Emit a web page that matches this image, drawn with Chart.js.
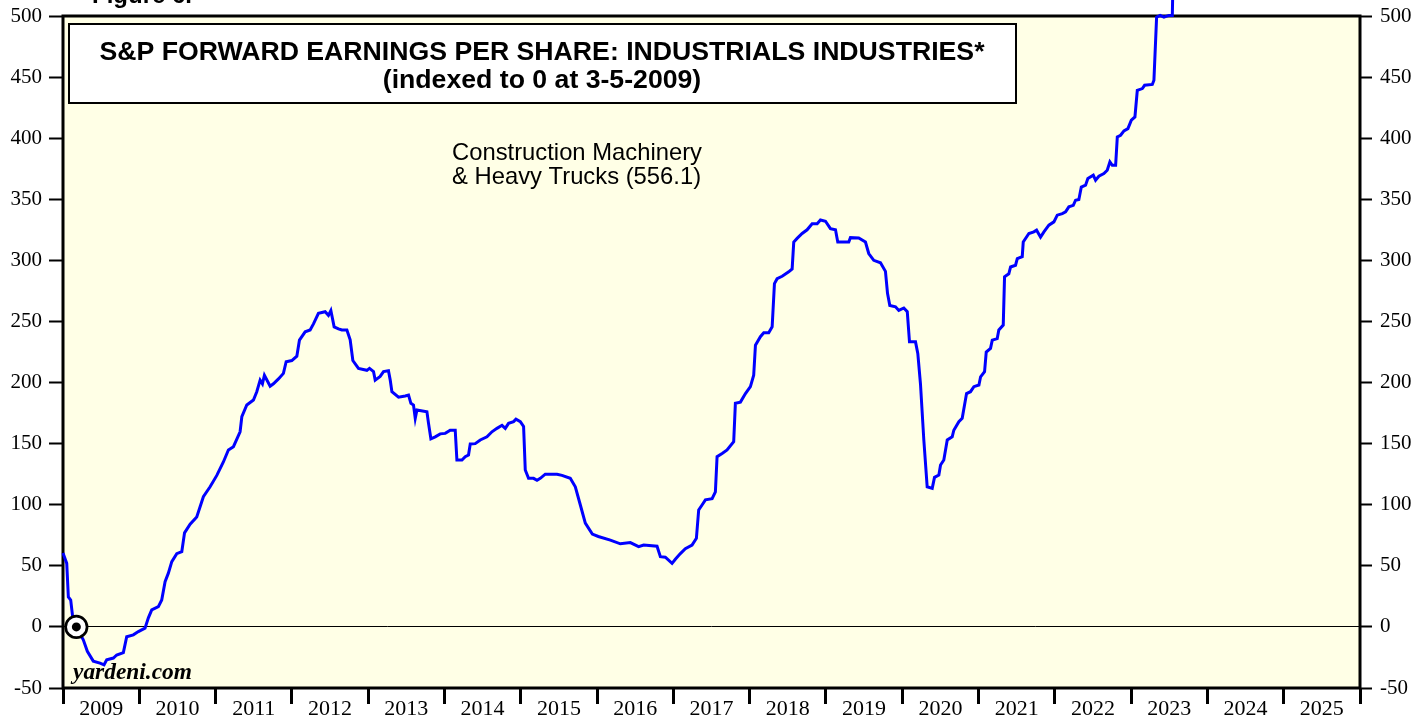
<!DOCTYPE html>
<html><head><meta charset="utf-8">
<script src="https://cdn.jsdelivr.net/npm/chart.js@4.4.0/dist/chart.umd.min.js"></script>
<style>html,body{margin:0;padding:0;background:#fff;}#wrap{width:1427px;height:719px;position:relative;}</style>
</head><body><div id="wrap"><canvas id="c"></canvas></div>
<script>
// ---- DATA ----
const yearLabels = ['2009','2010','2011','2012','2013','2014','2015','2016','2017','2018','2019','2020','2021','2022','2023','2024','2025'];
const yTicks = [-50,0,50,100,150,200,250,300,350,400,450,500];
const xMin = 2009, xMax = 2026;
const dates = [
 2009.000,2009.049,2009.070,2009.101,2009.127,2009.175,2009.266,2009.319,2009.397,2009.485,2009.538,2009.573,2009.660,2009.704,2009.791,2009.835,2009.922,2009.988,
 2010.075,2010.119,2010.163,2010.250,2010.294,2010.338,2010.381,2010.426,2010.491,2010.557,2010.593,2010.666,2010.753,2010.840,2010.928,
 2011.016,2011.102,2011.168,2011.234,2011.321,2011.344,2011.409,2011.496,2011.540,2011.584,2011.614,2011.640,2011.715,2011.758,2011.824,2011.889,2011.925,2011.999,
 2012.065,2012.099,2012.174,2012.239,2012.283,2012.348,2012.436,2012.479,2012.511,2012.554,2012.611,2012.655,2012.721,2012.764,2012.799,2012.873,2012.983,
 2013.017,2013.070,2013.092,2013.157,2013.201,2013.266,2013.289,2013.311,2013.398,2013.485,2013.529,2013.560,2013.594,2013.617,2013.639,2013.770,2013.791,2013.822,2013.879,2013.944,
 2014.010,2014.075,2014.141,2014.163,2014.229,2014.272,2014.315,2014.338,2014.403,2014.469,2014.557,2014.622,2014.688,2014.754,2014.797,2014.840,2014.906,2014.937,2014.994,
 2015.037,2015.059,2015.102,2015.168,2015.213,2015.256,2015.321,2015.475,2015.540,2015.649,2015.715,2015.780,2015.846,2015.938,
 2016.017,2016.174,2016.305,2016.436,2016.545,2016.611,2016.786,2016.830,2016.895,2016.983,
 2017.026,2017.092,2017.157,2017.245,2017.302,2017.332,2017.376,2017.420,2017.508,2017.551,2017.573,2017.639,2017.704,2017.791,2017.813,2017.879,2017.945,
 2018.010,2018.053,2018.076,2018.141,2018.185,2018.250,2018.295,2018.325,2018.360,2018.426,2018.512,2018.557,2018.578,2018.622,2018.688,2018.753,2018.819,2018.885,2018.928,2018.994,
 2019.059,2019.125,2019.155,2019.234,2019.299,2019.321,2019.430,2019.518,2019.561,2019.627,2019.715,2019.780,2019.807,2019.837,2019.912,2019.955,
 2020.021,2020.066,2020.095,2020.174,2020.204,2020.239,2020.283,2020.327,2020.393,2020.423,2020.480,2020.502,2020.545,2020.590,2020.655,2020.676,2020.742,2020.786,2020.843,2020.895,2020.939,
 2021.005,2021.027,2021.079,2021.101,2021.157,2021.180,2021.245,2021.266,2021.324,2021.341,2021.397,2021.420,2021.485,2021.508,2021.573,2021.586,2021.660,2021.725,2021.761,2021.813,2021.857,2021.922,2021.988,
 2022.032,2022.098,2022.141,2022.184,2022.242,2022.272,2022.315,2022.347,2022.403,2022.433,2022.504,2022.534,2022.577,2022.643,2022.687,2022.722,2022.753,2022.797,2022.819,2022.862,2022.906,2022.958,
 2023.003,2023.050,2023.081,2023.147,2023.177,2023.278,2023.299,2023.334,2023.380,2023.430,2023.495,2023.540,2023.557
];
const values = [
 60.5,52,24.5,22,8,0,-10.6,-20,-28,-29.6,-31,-27,-25.5,-23,-21,-8,-6.5,-3.8,
 -1,7.4,14,16.6,22,37,44,53.4,60,61.6,77,84,90,106.6,114.7,
 124,135,144.8,147.5,159.7,172,181.6,185.7,192.5,202,199,206,197,199,203,207.5,217,218,
 221.6,234.7,241.5,243,248,256.6,258,255,259,245.6,244,243,243,235,218,211.6,210,
 211.6,209,202,205,209,209.7,202,192.5,188,189,189.7,183,181.6,170.7,177.5,176,166.6,154,155.6,158,
 158.4,161,161,136.6,136.6,139.3,140.7,149.7,150,153,155.6,159.7,162.5,165,162.5,166.6,168,170,168,
 164,128.4,121.6,121.6,120,121.6,125,125,124,121.6,114.7,100,85,76,
 74,71,68,69,65.7,67,66,57.5,57,52,
 55.4,60,64,67,72.5,95.7,99.8,104,105,110.6,139.3,142,144.8,151.6,183,184,191,
 196.6,206,230.6,237.5,240.7,240.7,245.6,281,285,287,290.6,293,315,318,322,325,330,330,333,332,
 326,325,315,315,315,318.6,318.4,315,305.6,300,298,291,273,263,262,259,
 261,258,233.3,233.3,223.8,199,153,114.7,113.4,122.4,124.3,132.5,136.6,153,155.6,161,168,170.7,191,192.5,196.6,
 198,204.7,208.8,225,228,234.7,236,243,247,286.5,289,294.6,296,301.4,303,315,322,323.3,324.7,319,323.3,328.8,331.5,
 337,338.3,339.7,343.8,345,349.2,349.8,360,361.5,367,369.7,365.6,368.9,371,373.8,380.6,377.8,377.8,401,402.4,406,407.8,
 414.7,417.4,439.2,440.6,443.3,444,447.4,499,500.5,499,500.5,500.5,556.1
];
const markerDate = 2009.175, markerValue = 0;
const titleLines = ['S&P FORWARD EARNINGS PER SHARE: INDUSTRIALS INDUSTRIES*', '(indexed to 0 at 3-5-2009)'];
const seriesLabel = ['Construction Machinery', '& Heavy Trucks (556.1)'];
const figureLabel = 'Figure 6.';
const sourceLabel = 'yardeni.com';

// ---- DRAWING ----
const SERIF = "'Liberation Serif','Times New Roman',serif";
const SANS = "'Liberation Sans',Arial,sans-serif";
const points = dates.map((d, i) => ({x: d, y: values[i]}));

function scaleFor(ctx, text, font, width){ ctx.save(); ctx.font = font; const w = ctx.measureText(text).width; ctx.restore(); return width / w; }
function drawScaled(ctx, text, x, y, font, s, align){
  ctx.save(); ctx.font = font; ctx.fillStyle = '#000'; ctx.textAlign = align; ctx.textBaseline = 'alphabetic';
  ctx.translate(x, y); ctx.scale(s, 1); ctx.fillText(text, 0, 0); ctx.restore();
}

const deco = {
  id: 'deco',
  beforeDraw(chart){
    const {ctx, chartArea: a} = chart;
    ctx.save();
    ctx.fillStyle = '#fff'; ctx.fillRect(0, 0, chart.width, chart.height);
    ctx.fillStyle = '#FFFFE6'; ctx.fillRect(a.left, a.top, a.right - a.left, a.bottom - a.top);
    ctx.restore();
    drawScaled(ctx, figureLabel, 92, 3, 'bold 24px ' + SANS, 1, 'left');
  },
  beforeDatasetsDraw(chart){
    const {ctx, chartArea: a} = chart;
    ctx.save(); ctx.strokeStyle = '#000'; ctx.lineWidth = 3;
    ctx.strokeRect(a.left, a.top, a.right - a.left, a.bottom - a.top);
    ctx.restore();
  },
  afterDatasetsDraw(chart){
    const {ctx} = chart;
    // title box
    ctx.save(); ctx.fillStyle = '#fff'; ctx.strokeStyle = '#000'; ctx.lineWidth = 2;
    ctx.fillRect(69, 24, 947, 79); ctx.strokeRect(69, 24, 947, 79); ctx.restore();
    const tf = 'bold 25px ' + SANS;
    const ts = scaleFor(ctx, titleLines[0], tf, 885);
    drawScaled(ctx, titleLines[0], 542, 59.5, tf, ts, 'center');
    drawScaled(ctx, titleLines[1], 542, 87.5, tf, ts, 'center');
    // series label
    const af = '24px ' + SANS;
    const as = scaleFor(ctx, seriesLabel[0], af, 250);
    drawScaled(ctx, seriesLabel[0], 452, 159.5, af, as, 'left');
    drawScaled(ctx, seriesLabel[1], 452, 184, af, as, 'left');
    // source
    const sf = 'italic bold 23px ' + SERIF;
    drawScaled(ctx, sourceLabel, 73, 679, sf, scaleFor(ctx, sourceLabel, sf, 119), 'left');
    // marker
    const mx = chart.scales.x.getPixelForValue(markerDate), my = chart.scales.y.getPixelForValue(markerValue);
    ctx.save();
    ctx.beginPath(); ctx.arc(mx, my, 10.7, 0, Math.PI * 2); ctx.fillStyle = '#fff'; ctx.fill();
    ctx.lineWidth = 2.7; ctx.strokeStyle = '#000'; ctx.stroke();
    ctx.beginPath(); ctx.arc(mx, my, 4.5, 0, Math.PI * 2); ctx.fillStyle = '#000'; ctx.fill();
    ctx.restore();
  }
};

const yTickFont = {family: SERIF, size: 21, lineHeight: 0.6};
new Chart(document.getElementById('c'), {
  type: 'line',
  data: { datasets: [{ data: points, xAxisID: 'x', yAxisID: 'y', borderColor: '#0000FF', borderWidth: 3,
    pointRadius: 0, tension: 0, fill: false, clip: false }] },
  options: {
    responsive: true, maintainAspectRatio: false, animation: false, events: [],
    layout: { padding: { top: 16, left: 0, right: 0, bottom: 0 } },
    plugins: { legend: { display: false }, tooltip: { enabled: false } },
    scales: {
      x: { type: 'linear', display: false, min: xMin, max: xMax },
      xl: { type: 'category', labels: yearLabels, position: 'bottom', offset: true,
        grid: { offset: true, drawOnChartArea: false, drawTicks: true, tickLength: 16, tickWidth: 3, tickColor: '#000', color: '#000' },
        border: { display: false },
        ticks: { font: {family: SERIF, size: 22, lineHeight: 0.5}, color: '#000', padding: 0, autoSkip: false, maxRotation: 0, minRotation: 0 },
        afterFit: s => { s.height = 31; } },
      y: { type: 'linear', position: 'left', min: -50, max: 500,
        afterBuildTicks: s => { s.ticks = yTicks.map(v => ({value: v})); },
        grid: { drawOnChartArea: true, drawTicks: true, tickLength: 14, tickWidth: 2, tickColor: '#000',
          color: c => (c.tick && c.tick.value === 0) ? '#000' : 'rgba(0,0,0,0)', lineWidth: 1 },
        border: { display: false },
        ticks: { font: yTickFont, color: '#000', padding: 7 },
        afterFit: s => { s.width = 63; } },
      y2: { type: 'linear', position: 'right', min: -50, max: 500,
        afterBuildTicks: s => { s.ticks = yTicks.map(v => ({value: v})); },
        grid: { drawOnChartArea: false, drawTicks: true, tickLength: 12, tickWidth: 2, tickColor: '#000' },
        border: { display: false },
        ticks: { font: yTickFont, color: '#000', padding: 8 },
        afterFit: s => { s.width = 67; } }
    }
  },
  plugins: [deco]
});
</script>
</body></html>
